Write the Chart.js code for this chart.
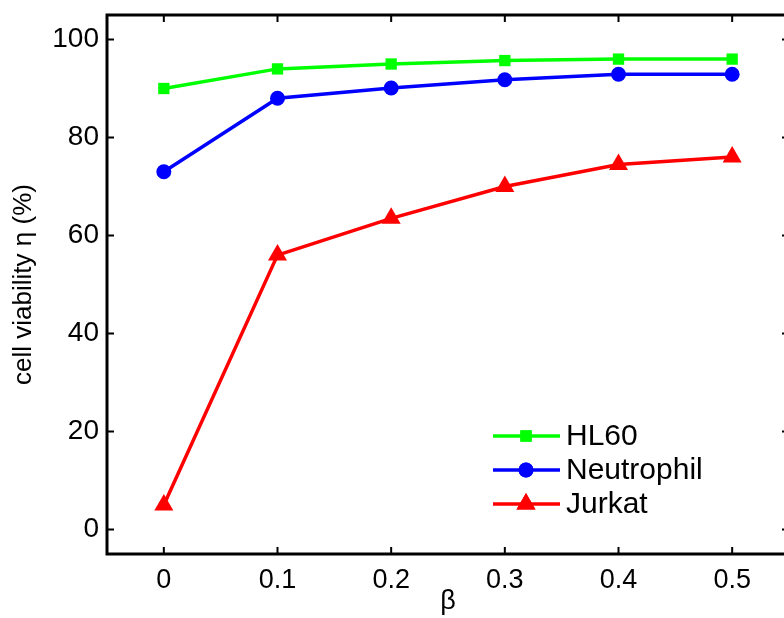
<!DOCTYPE html>
<html>
<head>
<meta charset="utf-8">
<script src="https://cdn.jsdelivr.net/npm/chart.js@4"></script>
<style>
  html, body { margin: 0; padding: 0; background: #fff; overflow: hidden; }
  #wrap { width: 800px; height: 618px; }
</style>
</head>
<body>
<div id="wrap"><canvas id="grafico"></canvas></div>
<script>
  const betas = [0, 0.1, 0.2, 0.3, 0.4, 0.5];
  const hl60 = [90, 94, 95, 95.7, 96, 96];
  const neutrophil = [73, 88, 90.1, 91.8, 92.9, 92.9];
  const jurkat = [5, 56, 63.5, 70, 74.5, 76];
  const xTicks = [0, 0.1, 0.2, 0.3, 0.4, 0.5];
  const yTicks = [0, 20, 40, 60, 80, 100];

  const font = "'Liberation Sans', Arial, Helvetica, sans-serif";

  const toPoints = (vals) => betas.map((b, i) => ({ x: b, y: vals[i] }));

  // box with inward ticks on all four sides (matlab style)
  const boxPlugin = {
    id: 'box',
    afterDraw(chart) {
      const { ctx, chartArea: a, scales } = chart;
      ctx.save();
      ctx.strokeStyle = '#000';
      ctx.lineWidth = 3;
      ctx.strokeRect(a.left, a.top, a.right - a.left, a.bottom - a.top);
      ctx.lineWidth = 2;
      const t = 7;
      ctx.beginPath();
      xTicks.forEach(v => {
        const px = scales.x.getPixelForValue(v);
        ctx.moveTo(px, a.bottom); ctx.lineTo(px, a.bottom - t);
        ctx.moveTo(px, a.top); ctx.lineTo(px, a.top + t);
      });
      yTicks.forEach(v => {
        const py = scales.y.getPixelForValue(v);
        ctx.moveTo(a.left, py); ctx.lineTo(a.left + t, py);
        ctx.moveTo(a.right, py); ctx.lineTo(a.right - t, py);
      });
      ctx.stroke();
      ctx.restore();
    }
  };

  // legend drawn as line + marker, like the original
  const legendPlugin = {
    id: 'lineLegend',
    afterDraw(chart) {
      const { ctx } = chart;
      ctx.save();
      ctx.font = '30px ' + font;
      ctx.textBaseline = 'middle';
      chart.data.datasets.forEach((ds, i) => {
        const y = 436 + i * 34;
        ctx.strokeStyle = ds.borderColor;
        ctx.lineWidth = 3.5;
        ctx.beginPath();
        ctx.moveTo(493, y); ctx.lineTo(560, y);
        ctx.stroke();
        ctx.fillStyle = ds.pointBackgroundColor;
        Chart.helpers.drawPoint(ctx, { pointStyle: ds.pointStyle, radius: ds.pointRadius, borderWidth: 0 }, 526, y);
        ctx.fill();
        ctx.fillStyle = '#000';
        ctx.fillText(ds.label, 566, y + 1);
      });
      ctx.restore();
    }
  };

  const ctx = document.getElementById('grafico').getContext('2d');

  const grafico = new Chart(ctx, {
    type: 'line',
    data: {
      datasets: [{
        label: 'HL60',
        data: toPoints(hl60),
        borderColor: '#00ff00',
        backgroundColor: '#00ff00',
        pointBackgroundColor: '#00ff00',
        pointBorderWidth: 0,
        pointStyle: 'rect',
        pointRadius: 8,
        borderWidth: 3.5
      }, {
        label: 'Neutrophil',
        data: toPoints(neutrophil),
        borderColor: '#0000ff',
        backgroundColor: '#0000ff',
        pointBackgroundColor: '#0000ff',
        pointBorderWidth: 0,
        pointStyle: 'circle',
        pointRadius: 7.5,
        borderWidth: 3.5
      }, {
        label: 'Jurkat',
        data: toPoints(jurkat),
        borderColor: '#ff0000',
        backgroundColor: '#ff0000',
        pointBackgroundColor: '#ff0000',
        pointBorderWidth: 0,
        pointStyle: 'triangle',
        pointRadius: 11,
        borderWidth: 3.5
      }]
    },
    options: {
      responsive: true,
      maintainAspectRatio: false,
      animation: false,
      layout: { padding: { top: 15, right: 10, left: 0, bottom: 0 } },
      plugins: {
        legend: { display: false },
        tooltip: { enabled: false }
      },
      scales: {
        x: {
          type: 'linear',
          min: -0.05,
          max: 0.55,
          afterBuildTicks: (s) => { s.ticks = xTicks.map(v => ({ value: v })); },
          afterFit: (s) => { s.height = 64; s.paddingLeft = 0; s.paddingRight = 0; },
          grid: { display: false },
          border: { display: false },
          ticks: {
            color: '#000',
            font: { family: font, size: 27 },
            padding: 2,
            maxRotation: 0,
            callback: (v) => String(Math.round(v * 10) / 10)
          },
          title: {
            display: true,
            text: 'β',
            color: '#000',
            font: { family: font, size: 27 },
            padding: { top: 0, bottom: 0 }
          }
        },
        y: {
          min: -5,
          max: 105,
          afterBuildTicks: (s) => { s.ticks = yTicks.map(v => ({ value: v })); },
          afterFit: (s) => { s.width = 107; s.paddingTop = 0; s.paddingBottom = 0; },
          grid: { display: false },
          border: { display: false },
          ticks: {
            color: '#000',
            font: { family: font, size: 28 },
            padding: 0
          },
          title: {
            display: true,
            text: 'cell viability η (%)',
            color: '#000',
            font: { family: font, size: 26 },
            padding: { top: 8, bottom: 0 }
          }
        }
      }
    },
    plugins: [boxPlugin, legendPlugin]
  });
</script>
</body>
</html>
